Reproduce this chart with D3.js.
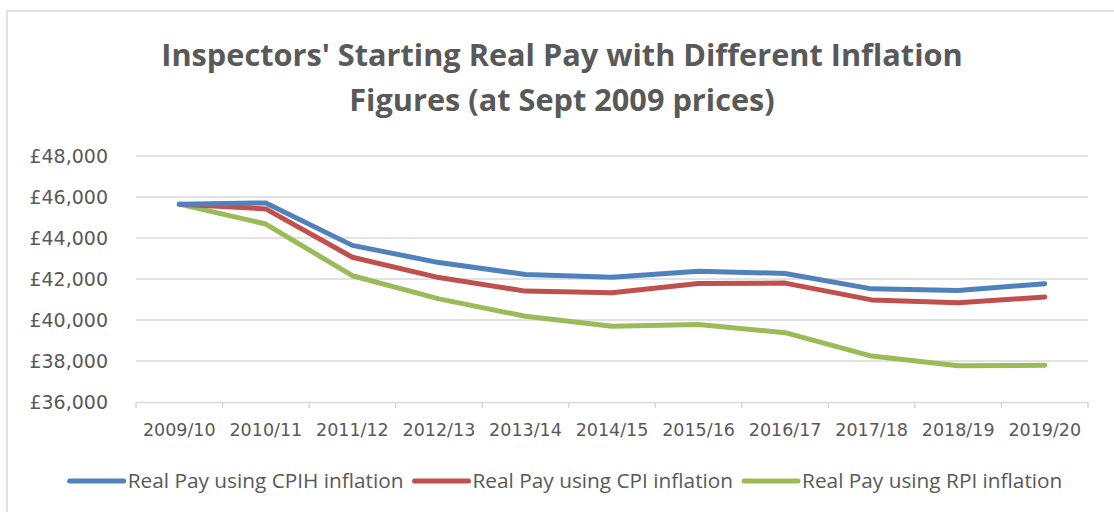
<!DOCTYPE html>
<html>
<head>
<meta charset="utf-8">
<script src="https://cdn.jsdelivr.net/npm/d3@7"></script>
<style>
  body { margin: 0; background: #fff; }
  svg { display: block; }
</style>
</head>
<body>
<div id="chart"></div>
<script>
var years = ["2009/10", "2010/11", "2011/12", "2012/13", "2013/14", "2014/15",
             "2015/16", "2016/17", "2017/18", "2018/19", "2019/20"];
var cpih = [45650, 45710, 43640, 42800, 42220, 42080, 42380, 42270, 41520, 41440, 41770];
var cpi  = [45650, 45420, 43060, 42070, 41410, 41330, 41780, 41800, 40980, 40840, 41120];
var rpi  = [45650, 44680, 42160, 41030, 40180, 39700, 39780, 39380, 38240, 37770, 37790];
var seriesNames = ["Real Pay using CPIH inflation", "Real Pay using CPI inflation", "Real Pay using RPI inflation"];
var yTicks = [36000, 38000, 40000, 42000, 44000, 46000, 48000];
var titleLines = ["Inspectors' Starting Real Pay with Different Inflation", "Figures (at Sept 2009 prices)"];

var width = 1114, height = 512;
var colors = ["#4F81BD", "#C0504D", "#9BBB59"];
var textColor = "#595959";

var margin = {top: 156, right: 26, bottom: 110, left: 136};
var innerW = width - margin.left - margin.right,
    innerH = height - margin.top - margin.bottom;

var svg = d3.select("#chart").append("svg")
    .attr("width", width)
    .attr("height", height);

// chart border
svg.append("rect")
    .attr("x", 7).attr("y", 11)
    .attr("width", width + 10).attr("height", height + 10)
    .attr("fill", "none")
    .attr("stroke", "#d9d9d9")
    .attr("stroke-width", 1.5);

var g = svg.append("g")
    .attr("transform", "translate(" + margin.left + "," + margin.top + ")");

var x = d3.scaleBand().domain(years).range([0, innerW]);
var y = d3.scaleLinear().domain([36000, 48000]).range([innerH, 0]);

// gridlines
g.append("g")
    .selectAll("line")
    .data(yTicks.slice(1))
    .enter().append("line")
    .attr("x1", 0).attr("x2", innerW)
    .attr("y1", d => y(d)).attr("y2", d => y(d))
    .attr("stroke", "#d9d9d9")
    .attr("stroke-width", 1.5);

// y axis labels
var yAxis = d3.axisLeft(y).tickValues(yTicks)
    .tickFormat(d => "£" + d3.format(",")(d))
    .tickSize(0).tickPadding(28);
g.append("g").call(yAxis)
    .call(a => a.select(".domain").remove())
    .selectAll("text")
    .style("font", "normal 19px 'DejaVu Sans'")
    .attr("fill", textColor);

// x axis
var xAxis = d3.axisBottom(x).tickSize(0).tickPadding(22);
var xg = g.append("g")
    .attr("transform", "translate(0," + innerH + ")")
    .call(xAxis);
xg.select(".domain").attr("stroke", "#d9d9d9").attr("stroke-width", 1.5);
xg.selectAll("text")
    .style("font", "normal 17.5px 'DejaVu Sans'")
    .attr("fill", textColor);
// category boundary ticks
xg.append("g").selectAll("line")
    .data(years.concat(["end"]))
    .enter().append("line")
    .attr("x1", (d, i) => i * x.step()).attr("x2", (d, i) => i * x.step())
    .attr("y1", 0).attr("y2", 6)
    .attr("stroke", "#d9d9d9")
    .attr("stroke-width", 1.5);

// lines
var line = d3.line()
    .x((d, i) => x(years[i]) + x.bandwidth() / 2)
    .y(d => y(d));

var allSeries = [cpih, cpi, rpi];
// draw RPI first, CPIH on top
[2, 1, 0].forEach(function(k) {
    g.append("path")
        .datum(allSeries[k])
        .attr("d", line)
        .attr("fill", "none")
        .attr("stroke", colors[k])
        .attr("stroke-width", 5)
        .attr("stroke-linejoin", "round")
        .attr("stroke-linecap", "round");
});

// title
var title = svg.append("text")
    .attr("text-anchor", "middle")
    .attr("fill", textColor)
    .style("font", "bold 30.7px 'Open Sans'");
titleLines.forEach(function(t, i) {
    title.append("tspan")
        .attr("x", 562)
        .attr("y", 66 + i * 45)
        .text(t);
});

// legend
var legend = svg.append("g");
var lx = 0;
seriesNames.forEach(function(name, i) {
    var item = legend.append("g").attr("transform", "translate(" + lx + ",0)");
    item.append("line")
        .attr("x1", 0).attr("x2", 54)
        .attr("y1", 0).attr("y2", 0)
        .attr("stroke", colors[i])
        .attr("stroke-width", 5)
        .attr("stroke-linecap", "round");
    var t = item.append("text")
        .attr("x", 58)
        .attr("dy", "0.35em")
        .attr("fill", textColor)
        .style("font", "normal 20.8px 'Open Sans'")
        .text(name);
    lx += 58 + t.node().getComputedTextLength() + 11;
});
var lw = lx - 11;
legend.attr("transform", "translate(" + (566 - lw / 2) + ",481)");
</script>
</body>
</html>
